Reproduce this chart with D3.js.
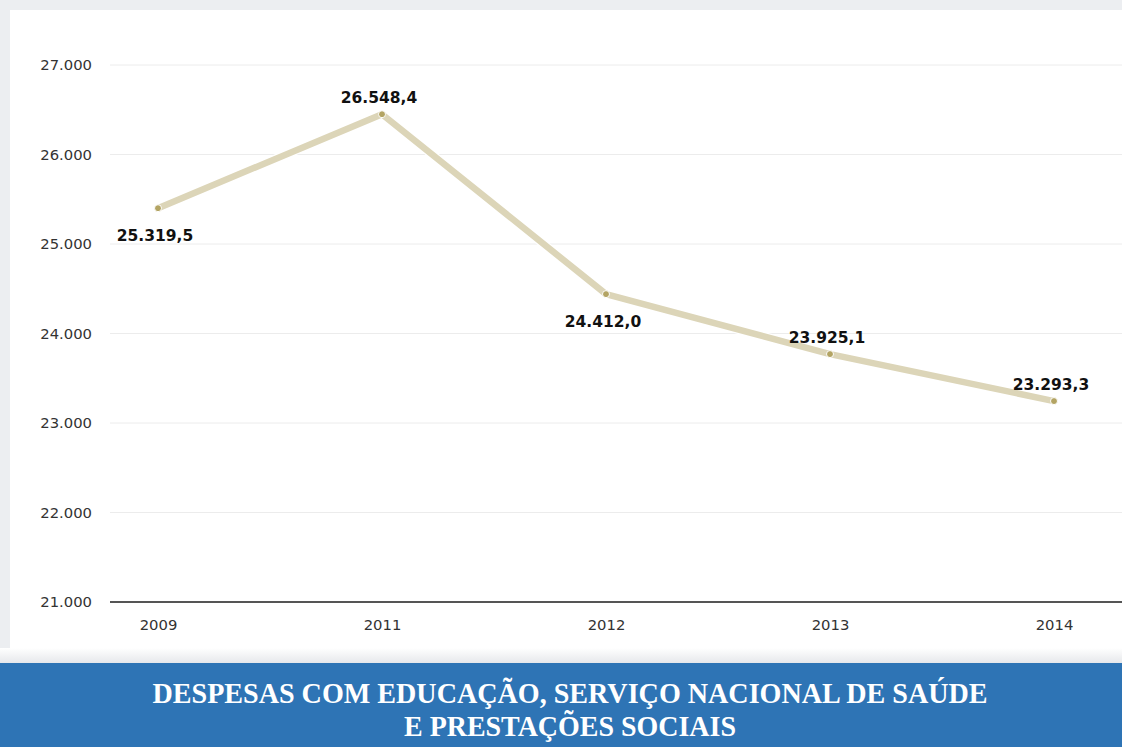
<!DOCTYPE html>
<html>
<head>
<meta charset="utf-8">
<script src="https://cdn.jsdelivr.net/npm/d3@7"></script>
<style>
  body { margin: 0; background: #eceef1; }
  svg { display: block; }
</style>
</head>
<body>
<svg id="chart"></svg>
<script>
// years on the x axis
var years = ["2009", "2011", "2012", "2013", "2014"]
// where the points sit in the picture
var plotted = [25400, 26450, 24440, 23770, 23245]
// the labels printed next to each point
var valueLabels = ["25.319,5", "26.548,4", "24.412,0", "23.925,1", "23.293,3"]
// label above (-1) or below (1) the point
var labelSide = [1, -1, 1, -1, -1]
var yTicks = [21000, 22000, 23000, 24000, 25000, 26000, 27000]
var titleLines = ["DESPESAS COM EDUCAÇÃO, SERVIÇO NACIONAL DE SAÚDE", "E PRESTAÇÕES SOCIAIS"]

var drawChart = function(target)
{
    var screen = {width:1122, height:747}
    var plot = {left:110, right:1122, top:65, bottom:602}
    var titleWidths = [835, 332]

    var svg = d3.select(target)
        .attr("width", screen.width)
        .attr("height", screen.height)

    svg.append("rect")
        .attr("width", screen.width).attr("height", screen.height)
        .attr("fill", "#eceef1")

    svg.append("rect")
        .attr("x", 10).attr("y", 10)
        .attr("width", screen.width - 10).attr("height", 647)
        .attr("fill", "#ffffff")

    var xScale = d3.scalePoint()
        .domain(years)
        .range([158, 1054])

    var yScale = d3.scaleLinear()
        .domain([21000, 27000])
        .range([plot.bottom, plot.top])

    var fmt = d3.formatLocale({decimal:",", thousands:".", grouping:[3], currency:["",""]}).format(",.0f")

    // grid lines
    svg.append("g")
        .selectAll("line")
        .data(yTicks.slice(1))
        .enter()
        .append("line")
        .attr("x1", plot.left).attr("x2", plot.right)
        .attr("y1", function(d){ return yScale(d) })
        .attr("y2", function(d){ return yScale(d) })
        .attr("stroke", "#ececec")
        .attr("stroke-width", 1)

    // y axis labels
    var yAxis = d3.axisLeft(yScale)
        .tickValues(yTicks)
        .tickFormat(fmt)
        .tickSize(0)
        .tickPadding(18)
    svg.append("g")
        .attr("transform", "translate(" + plot.left + ",0)")
        .call(yAxis)
        .call(function(g){ g.select(".domain").remove() })
        .selectAll("text")
        .attr("font-family", "DejaVu Sans")
        .attr("font-size", 14.8)
        .attr("fill", "#333")

    // x axis
    var xAxis = d3.axisBottom(xScale).tickSize(0).tickPadding(17)
    var gx = svg.append("g")
        .attr("transform", "translate(0," + plot.bottom + ")")
        .call(xAxis)
    gx.select(".domain").remove()
    gx.selectAll("text")
        .attr("font-family", "DejaVu Sans")
        .attr("font-size", 14.8)
        .attr("fill", "#333")
    svg.append("line")
        .attr("x1", plot.left).attr("x2", plot.right)
        .attr("y1", plot.bottom).attr("y2", plot.bottom)
        .attr("stroke", "#555").attr("stroke-width", 2)

    var points = years.map(function(y, i)
    {
        return {year:y, value:plotted[i], label:valueLabels[i], side:labelSide[i]}
    })

    var lineGenerator = d3.line()
        .x(function(d){ return xScale(d.year) })
        .y(function(d){ return yScale(d.value) })

    svg.append("path")
        .datum(points)
        .attr("d", lineGenerator)
        .attr("fill", "none")
        .attr("stroke", "#ffffff")
        .attr("stroke-width", 9)
        .attr("stroke-linejoin", "round")
    svg.append("path")
        .datum(points)
        .attr("d", lineGenerator)
        .attr("fill", "none")
        .attr("stroke", "#dcd5b8")
        .attr("stroke-width", 6.5)
        .attr("stroke-linejoin", "round")

    svg.append("g")
        .selectAll("circle")
        .data(points)
        .enter()
        .append("circle")
        .attr("cx", function(d){ return xScale(d.year) })
        .attr("cy", function(d){ return yScale(d.value) })
        .attr("r", 3.5)
        .attr("fill", "#b3a463")
        .attr("stroke", "#fff")
        .attr("stroke-width", 1)

    svg.append("g")
        .selectAll("text")
        .data(points)
        .enter()
        .append("text")
        .attr("x", function(d){ return xScale(d.year) - 3 })
        .attr("y", function(d){ return yScale(d.value) + (d.side > 0 ? 33 : -11) })
        .attr("text-anchor", "middle")
        .attr("font-family", "DejaVu Sans")
        .attr("font-weight", "bold")
        .attr("font-size", 15.5)
        .attr("fill", "#111")
        .text(function(d){ return d.label })

    // title band
    var band = svg.append("g")
    var grad = svg.append("defs").append("linearGradient")
        .attr("id", "fade").attr("x1", 0).attr("x2", 0).attr("y1", 0).attr("y2", 1)
    grad.append("stop").attr("offset", 0).attr("stop-color", "#ffffff")
    grad.append("stop").attr("offset", 1).attr("stop-color", "#e6e8eb")
    band.append("rect")
        .attr("x", 0).attr("y", 648)
        .attr("width", screen.width).attr("height", 15)
        .attr("fill", "url(#fade)")
    band.append("rect")
        .attr("x", 0).attr("y", 663)
        .attr("width", screen.width).attr("height", 84)
        .attr("fill", "#2e74b5")
    band.selectAll("text")
        .data(titleLines)
        .enter()
        .append("text")
        .attr("x", 570)
        .attr("y", function(d, i){ return 703 + i * 33 })
        .attr("text-anchor", "middle")
        .attr("font-family", "Liberation Serif")
        .attr("font-weight", "bold")
        .attr("font-size", 29)
        .attr("textLength", function(d, i){ return titleWidths[i] })
        .attr("lengthAdjust", "spacingAndGlyphs")
        .attr("fill", "#ffffff")
        .text(function(d){ return d })
}

drawChart("#chart")
</script>
</body>
</html>
